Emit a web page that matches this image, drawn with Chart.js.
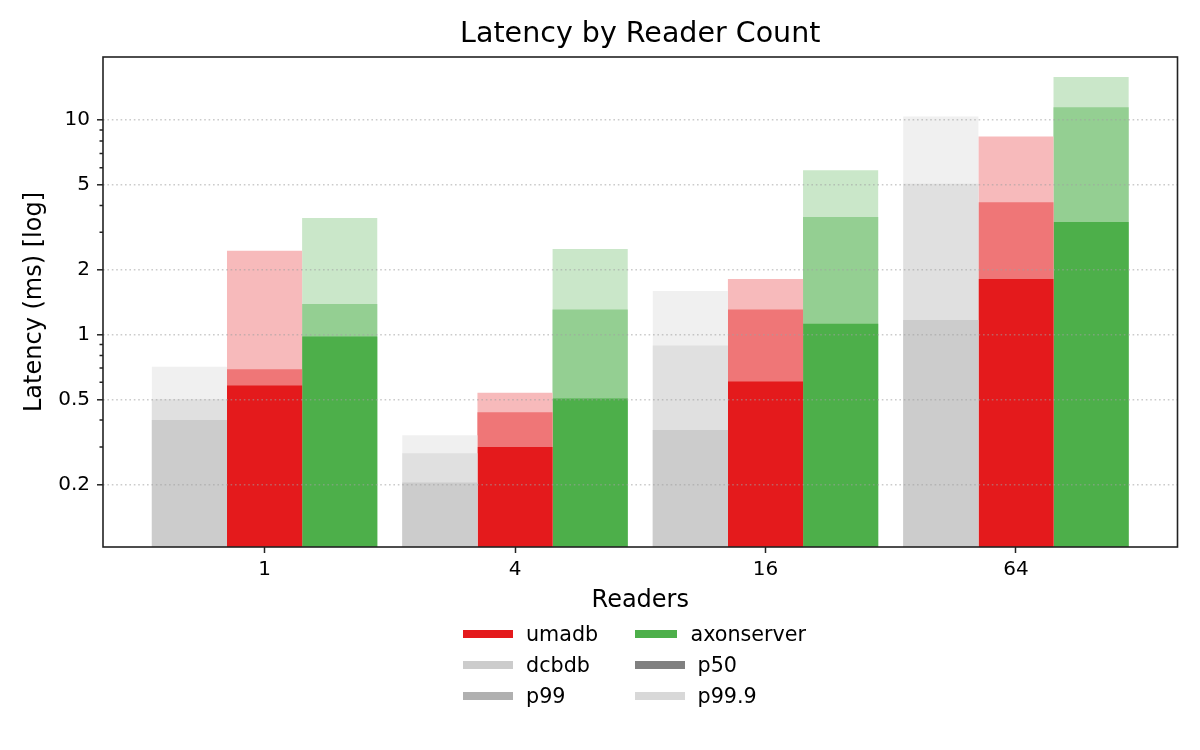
<!DOCTYPE html>
<html>
<head>
<meta charset="utf-8">
<script src="https://cdn.jsdelivr.net/npm/chart.js@4.4.0/dist/chart.umd.min.js"></script>
<style>
  body { margin: 0; background: #fff; }
  #wrap { position: relative; width: 1200px; height: 750px; }
  #legend {
    position: absolute; left: 463px; top: 618.5px;
    display: grid; grid-template-columns: 171.5px 171.5px; grid-auto-rows: 31px;
    font: 20.7px "DejaVu Sans"; color: #000;
  }
  .item { display: flex; align-items: center; }
  .swatch { width: 50px; height: 8px; margin-right: 13px; }
</style>
</head>
<body>
<div id="wrap">
  <canvas id="chart" width="1200" height="750"></canvas>
  <div id="legend"></div>
</div>
<script>
const readers = ['1', '4', '16', '64'];

// latency in ms
const dcbdbP50 = [0.40, 0.205, 0.36, 1.17];
const dcbdbP99 = [0.50, 0.28, 0.89, 5.05];
const dcbdbP999 = [0.71, 0.34, 1.60, 10.4];
const umadbP50 = [0.58, 0.30, 0.605, 1.82];
const umadbP99 = [0.69, 0.435, 1.31, 4.15];
const umadbP999 = [2.46, 0.537, 1.82, 8.4];
const axonP50 = [0.98, 0.505, 1.125, 3.35];
const axonP99 = [1.39, 1.31, 3.54, 11.5];
const axonP999 = [3.5, 2.51, 5.85, 15.9];

const yMajorTicks = [0.2, 0.5, 1, 2, 5, 10];
const yMinorTicks = [0.3, 0.4, 0.6, 0.7, 0.8, 0.9, 3, 4, 6, 7, 8, 9];

const legendNames = ['umadb', 'axonserver', 'dcbdb', 'p50', 'p99', 'p99.9'];
const legendColors = ['#e41a1c', '#4daf4a', '#cccccc', '#808080', '#b0b0b0', '#d8d8d8'];

function fade(hex, a) {
  const n = parseInt(hex.slice(1), 16);
  const mix = c => Math.round(c * a + 255 * (1 - a));
  return 'rgb(' + mix(n >> 16) + ',' + mix((n >> 8) & 255) + ',' + mix(n & 255) + ')';
}

const systems = [
  { name: 'dcbdb', color: '#cccccc', p50: dcbdbP50, p99: dcbdbP99, p999: dcbdbP999 },
  { name: 'umadb', color: '#e41a1c', p50: umadbP50, p99: umadbP99, p999: umadbP999 },
  { name: 'axonserver', color: '#4daf4a', p50: axonP50, p99: axonP99, p999: axonP999 },
];

const datasets = [];
systems.forEach(s => {
  [['p50', s.p50, 1], ['p99', s.p99, 0.6], ['p99.9', s.p999, 0.3]].forEach(([pct, vals, a]) => {
    datasets.push({
      label: s.name + ' ' + pct,
      stack: s.name,
      data: vals.map((v, i) => ({ x: i, y: v })),
      backgroundColor: fade(s.color, a),
      borderWidth: 0,
      categoryPercentage: 0.9,
      barPercentage: 1.0,
    });
  });
});

const frame = {
  id: 'frame',
  afterDraw(chart) {
    const { ctx, chartArea: a } = chart;
    const y = chart.scales.y;
    ctx.save();
    ctx.strokeStyle = '#222';
    ctx.lineWidth = 1.5;
    ctx.beginPath();
    yMinorTicks.forEach(v => {
      const py = y.getPixelForValue(v);
      ctx.moveTo(a.left - 3.5, py);
      ctx.lineTo(a.left, py);
    });
    ctx.stroke();
    ctx.lineWidth = 1.6;
    ctx.strokeRect(a.left, a.top, a.right - a.left, a.bottom - a.top);
    ctx.restore();
  }
};

Chart.defaults.font.family = 'DejaVu Sans';
Chart.defaults.color = '#000';

new Chart(document.getElementById('chart').getContext('2d'), {
  type: 'bar',
  data: { datasets: datasets },
  options: {
    responsive: false,
    animation: false,
    layout: { padding: { top: 0, right: 22.5, bottom: 135, left: 0 } },
    plugins: {
      legend: { display: false },
      tooltip: { enabled: false },
      title: {
        display: true,
        text: 'Latency by Reader Count',
        fullSize: false,
        font: { size: 28.5, weight: 'normal' },
        color: '#000',
        padding: { top: 17, bottom: 5.8 },
      },
    },
    scales: {
      x: {
        type: 'linear',
        stacked: true,
        offset: false,
        min: -0.645,
        max: 3.645,
        afterFit: s => { s.height = 68; },
        afterBuildTicks: s => { s.ticks = readers.map((r, i) => ({ value: i })); },
        ticks: {
          autoSkip: false,
          font: { size: 20 },
          padding: 5,
          callback: v => readers[v],
        },
        grid: { display: true, drawOnChartArea: false, offset: false, tickLength: 6, tickColor: '#222', tickWidth: 1.5 },
        border: { display: false },
        title: { display: true, text: 'Readers', font: { size: 24 }, padding: { top: 0, bottom: 0 } },
      },
      y: {
        type: 'logarithmic',
        stacked: false,
        min: 0.1025,
        max: 19.7,
        afterFit: s => { s.width = 103; },
        afterBuildTicks: s => { s.ticks = yMajorTicks.map(v => ({ value: v })); },
        ticks: {
          autoSkip: false,
          font: { size: 20 },
          padding: 7,
          callback: v => String(v),
        },
        grid: {
          z: 1,
          color: 'rgba(160,160,160,0.55)',
          lineWidth: 1.6,
          tickLength: 6,
          tickColor: '#222',
          tickWidth: 1.5,
          tickBorderDash: [],
        },
        border: { display: false, dash: [1.6, 2.8] },
        title: { display: true, text: 'Latency (ms) [log]', font: { size: 24 }, padding: { top: 20.6, bottom: 0 } },
      },
    },
  },
  plugins: [frame],
});

const legend = document.getElementById('legend');
legendNames.forEach((name, i) => {
  const item = document.createElement('div');
  item.className = 'item';
  const sw = document.createElement('span');
  sw.className = 'swatch';
  sw.style.background = legendColors[i];
  const tx = document.createElement('span');
  tx.textContent = name;
  item.appendChild(sw);
  item.appendChild(tx);
  legend.appendChild(item);
});
</script>
</body>
</html>
